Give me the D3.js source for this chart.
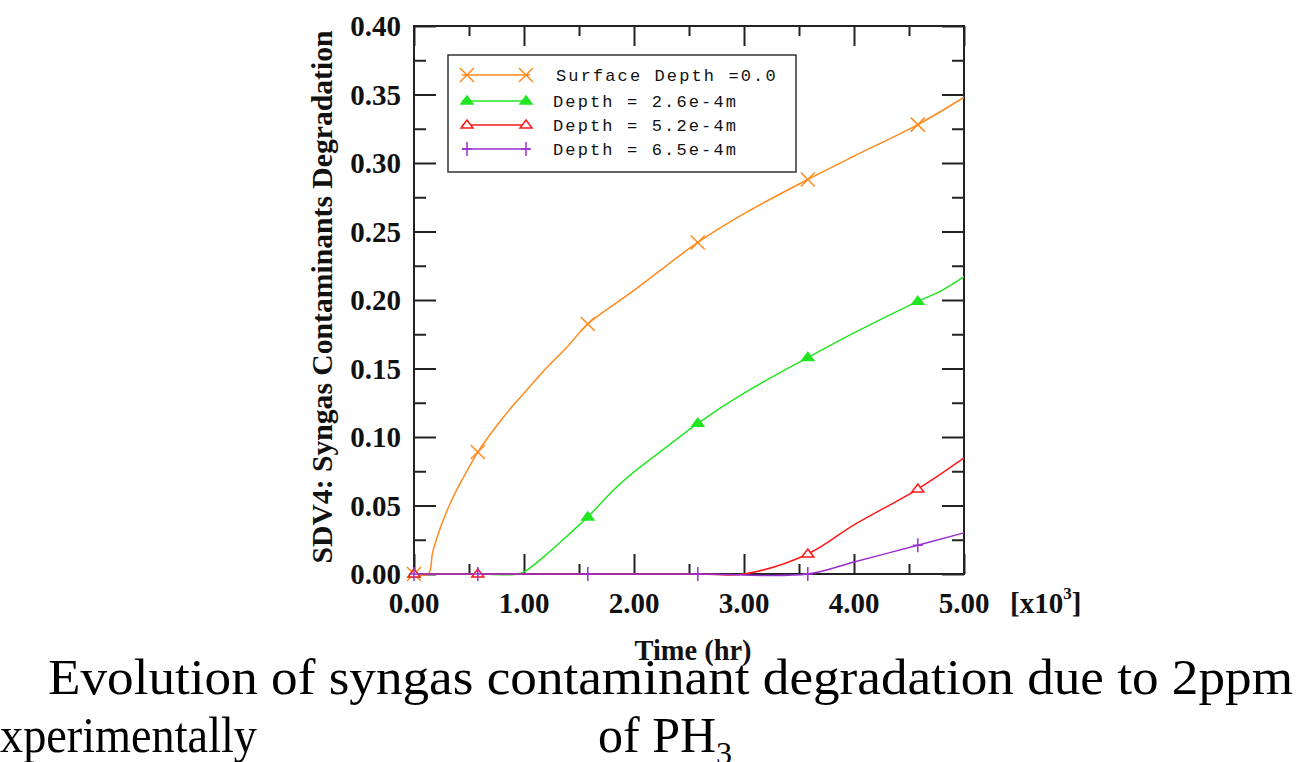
<!DOCTYPE html>
<html>
<head>
<meta charset="utf-8">
<style>
body { margin: 0; background: #fff; }
svg { display: block; }
.tick line { stroke: #222; stroke-width: 2px; }
.ticklabel { font-family: "Liberation Serif", serif; font-weight: bold; font-size: 29px; fill: #111; }
.legend text { font-family: "Liberation Mono", monospace; font-size: 17px; fill: #111; }
.caption { font-family: "Liberation Serif", serif; font-size: 50px; fill: #000; }
.line { fill: none; stroke-width: 1.5px; }
</style>
</head>
<body>
<svg width="1304" height="762"></svg>

<script src="https://cdnjs.cloudflare.com/ajax/libs/d3/7.8.5/d3.min.js"></script>

<script type="text/javascript">

    // values: [time (x10^3 hr), degradation]
    var surface = [[0, 0], [0.13, 0], [0.17, 0.016], [0.25, 0.036], [0.355, 0.056], [0.48, 0.075],
                   [0.58, 0.089], [0.75, 0.108], [0.9, 0.123], [1.0, 0.132], [1.2, 0.150], [1.4, 0.1665],
                   [1.58, 0.1825], [2.0, 0.207], [2.58, 0.242], [3.0, 0.263], [3.58, 0.288], [4.0, 0.305],
                   [4.58, 0.328], [5.0, 0.348]];
    var depth26 = [[0, 0], [0.58, 0], [0.95, 0], [1.03, 0.003], [1.25, 0.0175], [1.45, 0.032],
                   [1.58, 0.0416], [1.81, 0.061], [2.0, 0.0745], [2.3, 0.093], [2.58, 0.110],
                   [3.0, 0.132], [3.58, 0.158], [4.0, 0.176], [4.58, 0.199], [4.8, 0.207], [5.0, 0.217]];
    var depth52 = [[0, 0], [0.58, 0], [1.58, 0], [2.58, 0], [3.0, 0], [3.58, 0.0146],
                   [4.0, 0.0358], [4.58, 0.062], [5.0, 0.0847]];
    var depth65 = [[0, 0], [0.58, 0], [1.58, 0], [2.58, 0], [3.58, 0], [4.0, 0.0088],
                   [4.58, 0.021], [5.0, 0.030]];

    // times where a symbol is drawn for each series
    var surfaceMarks = [0, 0.58, 1.58, 2.58, 3.58, 4.58];
    var depth26Marks = [0, 1.58, 2.58, 3.58, 4.58];
    var depth52Marks = [0, 0.58, 3.58, 4.58];
    var depth65Marks = [0, 0.58, 1.58, 2.58, 3.58, 4.58];

    var seriesNames = ["Surface Depth =0.0", "Depth = 2.6e-4m", "Depth = 5.2e-4m", "Depth = 6.5e-4m"];
    var seriesColors = ["#ff8a1e", "#22e622", "#ff1a1a", "#9b30d0"];
    var seriesSymbols = ["cross", "triFilled", "triOpen", "plus"];

    var xTicks = [0, 1, 2, 3, 4, 5];
    var xMinorTicks = [0.5, 1.5, 2.5, 3.5, 4.5];
    var yTicks = [0, 0.05, 0.10, 0.15, 0.20, 0.25, 0.30, 0.35, 0.40];
    var yMinorTicks = [0.025, 0.075, 0.125, 0.175, 0.225, 0.275, 0.325, 0.375];

    var series = [
        {name: seriesNames[0], color: seriesColors[0], symbol: seriesSymbols[0], values: surface, marks: surfaceMarks},
        {name: seriesNames[1], color: seriesColors[1], symbol: seriesSymbols[1], values: depth26, marks: depth26Marks},
        {name: seriesNames[2], color: seriesColors[2], symbol: seriesSymbols[2], values: depth52, marks: depth52Marks},
        {name: seriesNames[3], color: seriesColors[3], symbol: seriesSymbols[3], values: depth65, marks: depth65Marks}
    ];

    var svg = d3.select("svg");
    var plot = {left: 414, right: 964, top: 26, bottom: 574};

    var x = d3.scaleLinear().domain([0, 5]).range([plot.left, plot.right]);
    var y = d3.scaleLinear().domain([0, 0.4]).range([plot.bottom, plot.top]);

    //ticks on all four sides, pointing inward
    function tickAxis(axisFn, scale, values, size, tx, ty) {
        var g = svg.append("g")
            .attr("transform", "translate(" + tx + "," + ty + ")")
            .call(axisFn(scale).tickValues(values).tickSize(size).tickFormat(""));
        g.select(".domain").remove();
        return g;
    }
    tickAxis(d3.axisBottom, x, xTicks, -20, 0, plot.bottom);
    tickAxis(d3.axisBottom, x, xMinorTicks, -10, 0, plot.bottom);
    tickAxis(d3.axisTop, x, xTicks, -20, 0, plot.top);
    tickAxis(d3.axisTop, x, xMinorTicks, -10, 0, plot.top);
    tickAxis(d3.axisLeft, y, yTicks, -22, plot.left, 0);
    tickAxis(d3.axisLeft, y, yMinorTicks, -12, plot.left, 0);
    tickAxis(d3.axisRight, y, yTicks, -22, plot.right, 0);
    tickAxis(d3.axisRight, y, yMinorTicks, -12, plot.right, 0);

    svg.append("rect")
        .attr("x", plot.left)
        .attr("y", plot.top)
        .attr("width", plot.right - plot.left)
        .attr("height", plot.bottom - plot.top)
        .attr("fill", "none")
        .attr("stroke", "#222")
        .attr("stroke-width", 2);

    //tick labels
    svg.append("g").selectAll("text")
        .data(xTicks)
        .enter().append("text")
        .attr("class", "ticklabel")
        .attr("x", function(d) { return x(d); })
        .attr("y", 613)
        .attr("text-anchor", "middle")
        .text(d3.format(".2f"));

    svg.append("g").selectAll("text")
        .data(yTicks)
        .enter().append("text")
        .attr("class", "ticklabel")
        .attr("x", 401)
        .attr("y", function(d) { return y(d); })
        .attr("dy", "0.35em")
        .attr("text-anchor", "end")
        .text(d3.format(".2f"));

    var unit = svg.append("text")
        .attr("class", "ticklabel")
        .attr("x", 1010)
        .attr("y", 613);
    unit.append("tspan").text("[x10");
    unit.append("tspan").attr("font-size", "17px").attr("dy", -14).text("3");
    unit.append("tspan").attr("dy", 14).text("]");

    //axis titles
    svg.append("text")
        .attr("class", "ticklabel")
        .attr("font-size", "25px")
        .attr("x", 693)
        .attr("y", 660)
        .attr("text-anchor", "middle")
        .attr("textLength", 117)
        .attr("lengthAdjust", "spacingAndGlyphs")
        .text("Time (hr)");

    svg.append("text")
        .attr("class", "ticklabel")
        .attr("font-size", "27px")
        .attr("transform", "translate(332,297) rotate(-90)")
        .attr("text-anchor", "middle")
        .attr("textLength", 533)
        .attr("lengthAdjust", "spacingAndGlyphs")
        .text("SDV4: Syngas Contaminants Degradation");

    //curves
    var line = d3.line()
        .curve(d3.curveCatmullRom.alpha(0.5))
        .x(function(d) { return x(d[0]); })
        .y(function(d) { return y(d[1]); });

    function drawSymbol(g, kind, color, cx, cy) {
        if (kind === "cross") {
            g.append("path").attr("d", "M" + (cx - 7) + "," + (cy - 7) + "L" + (cx + 7) + "," + (cy + 7) +
                "M" + (cx - 7) + "," + (cy + 7) + "L" + (cx + 7) + "," + (cy - 7))
                .attr("stroke", color).attr("stroke-width", 1.5).attr("fill", "none");
        } else if (kind === "triFilled" || kind === "triOpen") {
            g.append("path").attr("d", "M" + cx + "," + (cy - 5) + "L" + (cx + 6) + "," + (cy + 3) +
                "L" + (cx - 6) + "," + (cy + 3) + "Z")
                .attr("stroke", color).attr("stroke-width", 1.5)
                .attr("fill", kind === "triFilled" ? color : "#fff");
        } else {
            g.append("path").attr("d", "M" + cx + "," + (cy - 7) + "L" + cx + "," + (cy + 7) +
                "M" + (cx - 5) + "," + cy + "L" + (cx + 5) + "," + cy)
                .attr("stroke", color).attr("stroke-width", 1.5).attr("fill", "none");
        }
    }

    var curves = svg.append("g");
    series.forEach(function(s) {
        curves.append("path")
            .attr("class", "line")
            .attr("stroke", s.color)
            .attr("d", line(s.values));
    });
    series.forEach(function(s) {
        var g = curves.append("g");
        s.marks.forEach(function(t) {
            var pt = s.values.find(function(d) { return d[0] === t; });
            drawSymbol(g, s.symbol, s.color, x(pt[0]), y(pt[1]));
        });
    });

    //legend
    var legend = svg.append("g").attr("class", "legend");
    legend.append("rect")
        .attr("x", 448).attr("y", 55)
        .attr("width", 348).attr("height", 117)
        .attr("fill", "#fff")
        .attr("stroke", "#333")
        .attr("stroke-width", 1.5);
    var rowY = [75, 101, 125, 149];
    series.forEach(function(s, i) {
        var g = legend.append("g");
        g.append("line")
            .attr("x1", 462).attr("x2", 530)
            .attr("y1", rowY[i]).attr("y2", rowY[i])
            .attr("stroke", s.color).attr("stroke-width", 1.5);
        drawSymbol(g, s.symbol, s.color, 467, rowY[i]);
        drawSymbol(g, s.symbol, s.color, 526, rowY[i]);
        g.append("text")
            .attr("x", i === 0 ? 556 : 553)
            .attr("y", rowY[i] + 6)
            .attr("textLength", s.name.length * 12.2)
            .attr("lengthAdjust", "spacing")
            .text(s.name);
    });

    //caption under the figure
    svg.append("text")
        .attr("class", "caption")
        .attr("x", 48).attr("y", 694)
        .attr("textLength", 1245)
        .attr("lengthAdjust", "spacingAndGlyphs")
        .text("Evolution of syngas contaminant degradation due to 2ppm");

    svg.append("text")
        .attr("class", "caption")
        .attr("x", 0).attr("y", 752)
        .attr("textLength", 257)
        .attr("lengthAdjust", "spacingAndGlyphs")
        .text("xperimentally");

    var ph = svg.append("text")
        .attr("class", "caption")
        .attr("x", 598).attr("y", 752);
    ph.append("tspan").text("of PH");
    ph.append("tspan").attr("font-size", "32px").attr("dy", 12).text("3");

</script>
</body>
</html>
